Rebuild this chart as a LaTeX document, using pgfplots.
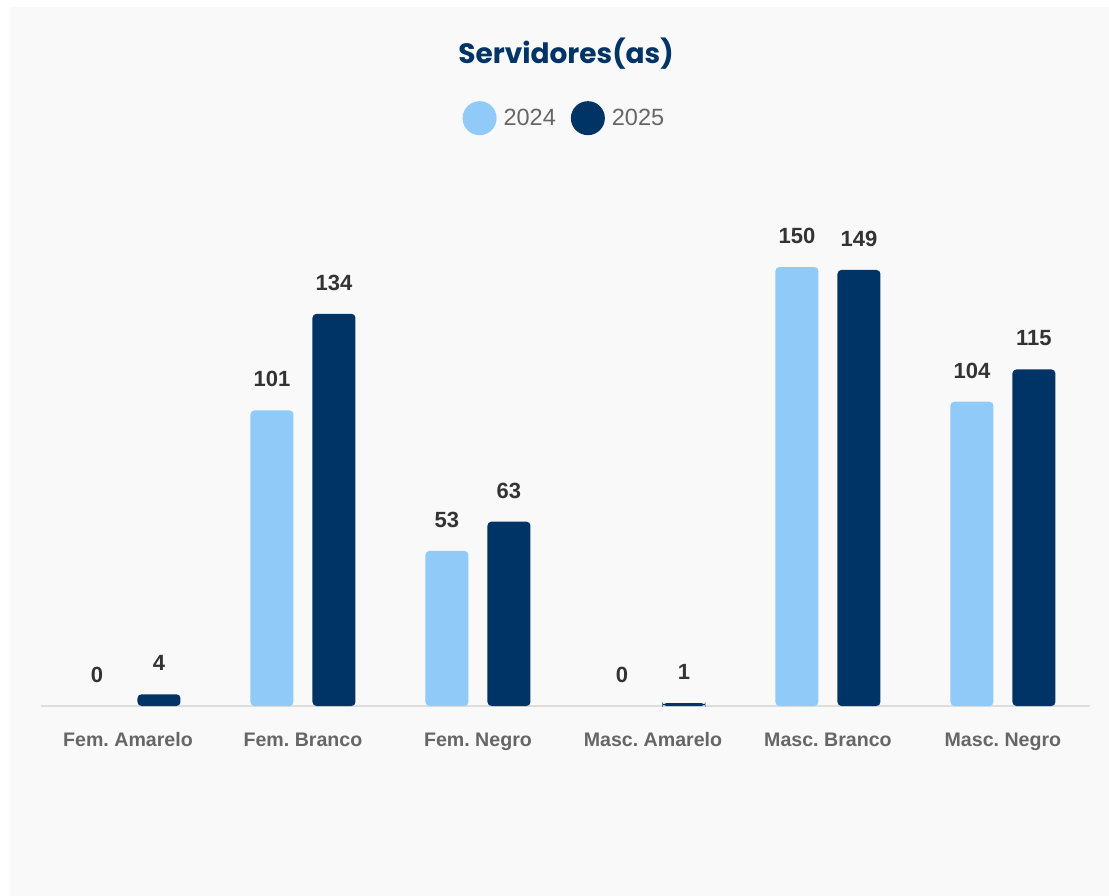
\documentclass[border=0pt]{standalone}
\usepackage{fontspec}
\setmainfont{Liberation Sans}
\newfontfamily\poppins{Poppins}
\usepackage{pgfplots}
\pgfplotsset{compat=1.18}
\frenchspacing
\definecolor{lightb}{HTML}{90CAF9}
\definecolor{darkb}{HTML}{003366}
\definecolor{bg}{HTML}{F9F9F9}
\definecolor{vallab}{HTML}{333333}
\definecolor{ticklab}{HTML}{666666}
\definecolor{axisl}{HTML}{DDDDDD}
\begin{document}
\begin{tikzpicture}
\fill[white] (0pt,0pt) rectangle (1109pt,-896pt);
\fill[bg] (10pt,-7pt) rectangle (1109pt,-896pt);
\begin{axis}[
  at={(40.5pt,-706pt)}, anchor=south west,
  scale only axis, width=1050pt, height=439pt,
  xmin=-0.5, xmax=5.5, ymin=0, ymax=150,
  clip=false,
  hide y axis,
  axis x line*=bottom,
  x axis line style={draw=axisl, line width=1.5pt, -},
  xtick={0,1,2,3,4,5},
  xticklabels={Fem. Amarelo, Fem. Branco, Fem. Negro, Masc. Amarelo, Masc. Branco, Masc. Negro},
  xtick style={draw=none}, major tick length=0pt,
  xticklabel style={anchor=base, yshift=-40pt, font=\bfseries\fontsize{19.6}{23}\selectfont, text=ticklab},
  ybar, bar width=43pt,
  /pgf/number format/assume math mode=true,
  nodes near coords,
  every node near coord/.append style={anchor=center, yshift=31pt, font=\bfseries\fontsize{22}{26}\selectfont, text=vallab},
  title={Servidores(as)},
  title style={at={(axis description cs:0.5005,1.472)}, anchor=center, font=\poppins\bfseries\fontsize{28}{32}\selectfont, text=darkb},
  legend columns=-1,
  legend style={at={(axis description cs:0.498,1.339)}, anchor=center, draw=none, fill=none, inner sep=0pt, outer sep=0pt,
    nodes={inner sep=0pt, font=\fontsize{23.5}{27}\selectfont, text=ticklab}},
  legend image code/.code={\fill[#1] (0pt,0pt) circle (17pt);},
]
\addplot[fill=lightb, draw=none, rounded corners=4pt, bar shift=-31pt] coordinates {(1,101) (2,53) (4,150) (5,104)};
\addplot[fill=darkb, draw=none, rounded corners=4pt, bar shift=31pt] coordinates {(0,4) (1,134) (2,63) (3,1) (4,149) (5,115)};
\legend{\hspace*{7pt}2024\hspace*{15pt}, \hspace*{7pt}2025}
\addplot[draw=none, fill=none, bar shift=-31pt, forget plot] coordinates {(0,0) (3,0)};
\end{axis}
\end{tikzpicture}
\end{document}
